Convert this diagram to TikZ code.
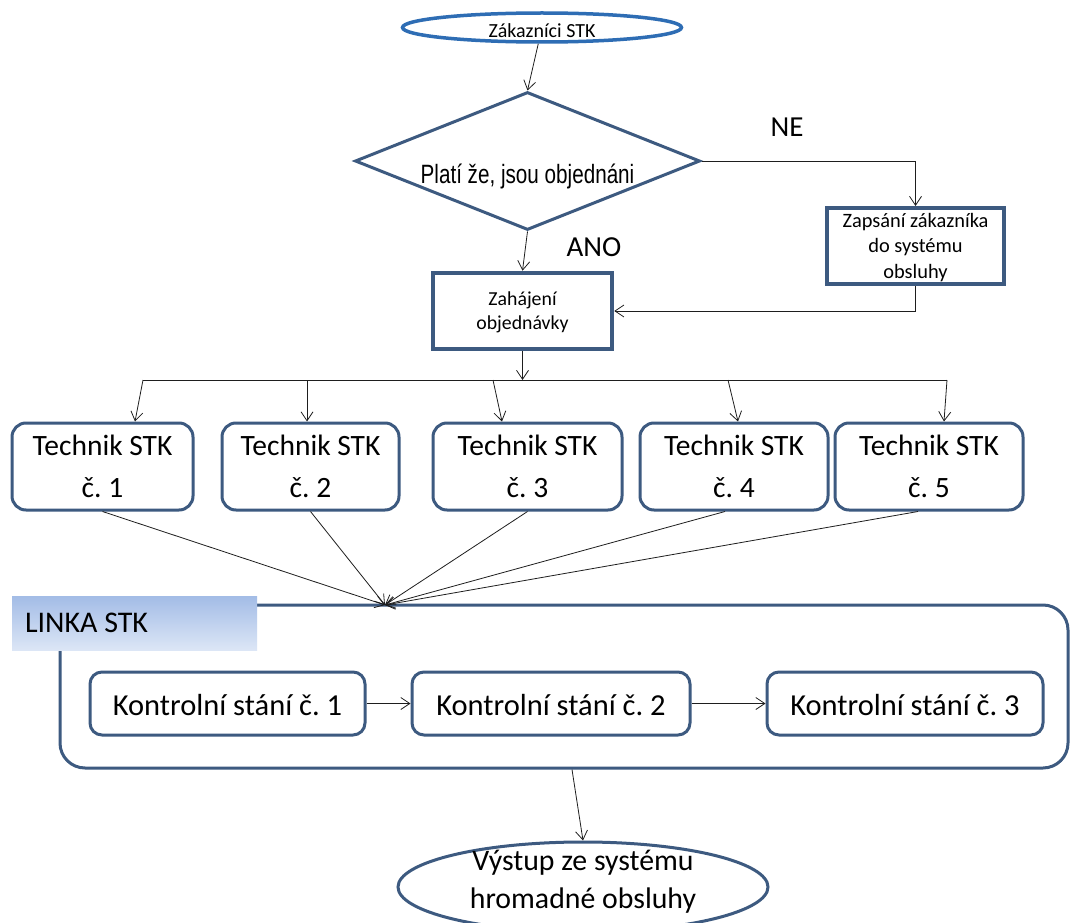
\documentclass[tikz,border=0pt]{standalone}
\usepackage{fontspec}
\setmainfont{Carlito}
\newfontfamily\diafont[FakeStretch=0.78]{Liberation Sans}
\usetikzlibrary{shapes.geometric,arrows.meta,calc}
\frenchspacing

\definecolor{outline}{HTML}{3D5A80}
\definecolor{brightblue}{HTML}{2E6DB4}
\definecolor{labeltop}{HTML}{A3BCE6}
\definecolor{labelbot}{HTML}{DCE6F6}
\definecolor{wire}{HTML}{1E1E1E}

% text whose first baseline sits #1 above the node centre, taking no room
\newcommand\placed[2]{\raisebox{#1}[0pt][0pt]{\begin{tabular}[t]{@{}c@{}}#2\end{tabular}}}

\tikzset{
  conn/.style={draw=wire, line width=0.8pt, -{Straight Barb[length=9pt,width=12pt]}},
  wireline/.style={draw=wire, line width=0.8pt},
  procbox/.style={draw=outline, fill=white, inner sep=0pt},
  techbox/.style={draw=outline, line width=3pt, fill=white, rounded corners=14pt,
    inner sep=0pt, minimum height=87pt, font=\fontsize{29.5}{42}\selectfont},
  checkbox/.style={draw=outline, line width=3pt, fill=white, rounded corners=12pt,
    inner sep=0pt, minimum height=63pt, font=\fontsize{30.5}{36}\selectfont},
  answer/.style={font=\fontsize{29}{34}\selectfont, inner sep=0pt},
}

\begin{document}
\begin{tikzpicture}[x=1pt,y=-1pt]
\useasboundingbox (0,0) rectangle (1071,923);
\fill[white] (0,0) rectangle (1071,923);

% start and decision
\node[ellipse, draw=brightblue, line width=3.5pt, fill=white, minimum width=279pt,
  minimum height=29pt, inner sep=0pt, font=\fontsize{20}{24}\selectfont]
  (zak) at (542,27.5) {\placed{-10.5pt}{Zákazníci STK}};
\node[diamond, shape aspect=2.5, draw=outline, line width=3pt, fill=white,
  minimum width=345pt, minimum height=138pt, inner sep=0pt,
  font=\diafont\fontsize{26.5}{30}\selectfont]
  (dec) at (527.5,161) {\placed{-22pt}{Platí že, jsou objednáni}};

\node[answer] (ne) at (787,127.5) {NE};
\node[answer] (ano) at (594,247) {ANO};

% registration and order start
\node[procbox, line width=4pt, minimum width=177pt, minimum height=76pt,
  font=\fontsize{20.4}{25.5}\selectfont]
  (zap) at (915.5,246) {\placed{19pt}{Zapsání zákazníka\\do systému\\obsluhy}};
\node[procbox, line width=4.5pt, minimum width=179pt, minimum height=76pt,
  font=\fontsize{19.8}{24}\selectfont]
  (zah) at (522.5,311) {\placed{6pt}{Zahájení\\objednávky}};

\draw[conn] (zak) -- (dec.north);
\draw[conn] (dec.south) -- (zah.north);
\draw[conn] (dec.east) -| (zap.north);
\draw[conn] (zap.south) |- (zah.east);

% technicians
\node[techbox, minimum width=181pt] (t1) at (102.5,466.5) {\placed{11.5pt}{Technik STK\\č. 1}};
\node[techbox, minimum width=177pt] (t2) at (310.5,466.5) {\placed{11.5pt}{Technik STK\\č. 2}};
\node[techbox, minimum width=189pt] (t3) at (527.5,466.5) {\placed{11.5pt}{Technik STK\\č. 3}};
\node[techbox, minimum width=188pt] (t4) at (734,466.5) {\placed{11.5pt}{Technik STK\\č. 4}};
\node[techbox, minimum width=188pt] (t5) at (929,466.5) {\placed{11.5pt}{Technik STK\\č. 5}};

% distribution bar
\coordinate (b1) at (143,380);
\coordinate (b2) at (307,380);
\coordinate (b3) at (493,380);
\coordinate (bc) at (522.5,380);
\coordinate (b4) at (728,380);
\coordinate (b5) at (947,380);
\draw[wireline] (b1) -- (b5);
\draw[conn] (zah.south) -- (bc);
\draw[conn] (b1) -- ($(t1.north)+(32.5,0)$);
\draw[conn] (b2) -- ($(t2.north)+(-3.5,0)$);
\draw[conn] (b3) -- ($(t3.north)+(-25.5,0)$);
\draw[conn] (b4) -- ($(t4.north)+(4,0)$);
\draw[conn] (b5) -- ($(t5.north)+(15,0)$);

% inspection line
\node[draw=outline, line width=3pt, rounded corners=25pt, minimum width=1008pt,
  minimum height=163pt, inner sep=0pt] (linka) at (564,686.5) {};
\node[top color=labeltop, bottom color=labelbot, minimum width=245pt, minimum height=54pt,
  inner sep=0pt, font=\fontsize{30}{36}\selectfont]
  (lab) at (134.5,623) {\raisebox{-9pt}[0pt][0pt]{\makebox[219pt][l]{LINKA STK}}};

\coordinate (conv) at (385,605);
\draw[conn] (t1.south) -- (conv);
\draw[conn] (t2.south) -- (conv);
\draw[conn] (t3.south) -- (conv);
\draw[conn] ($(t4.south)+(-9,0)$) -- (conv);
\draw[conn] ($(t5.south)+(-11,0)$) -- (conv);

\node[checkbox, minimum width=275pt] (k1) at (227.5,703.5) {\placed{-11.5pt}{Kontrolní stání č. 1}};
\node[checkbox, minimum width=278pt] (k2) at (551,703.5) {\placed{-11.5pt}{Kontrolní stání č. 2}};
\node[checkbox, minimum width=276pt] (k3) at (905,703.5) {\placed{-11.5pt}{Kontrolní stání č. 3}};
\draw[conn] (k1) -- (k2);
\draw[conn] (k2) -- (k3);

% exit
\node[ellipse, draw=outline, line width=3pt, fill=white, minimum width=370pt,
  minimum height=90pt, inner sep=0pt, font=\fontsize{29.8}{38}\selectfont]
  (out) at (583,887) {\placed{17pt}{Výstup ze systému\\hromadné obsluhy}};
\draw[conn] ($(linka.south)+(8,0)$) -- (out.north);
\end{tikzpicture}
\end{document}
